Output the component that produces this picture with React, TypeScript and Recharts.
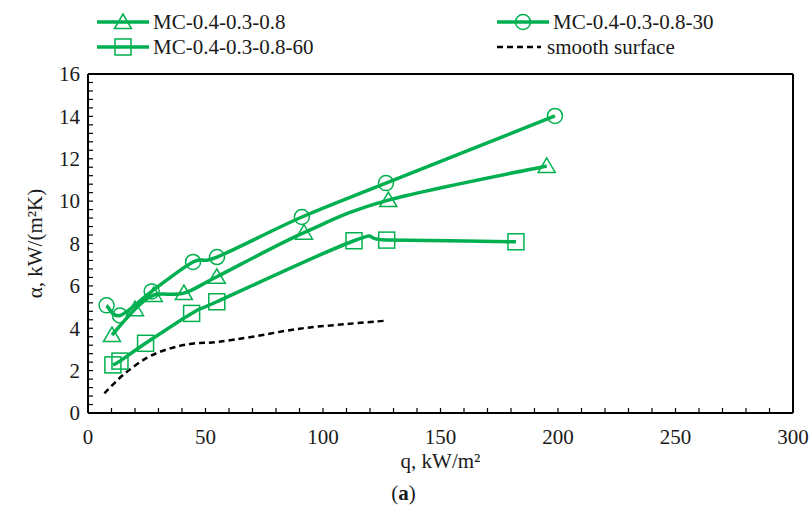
import React from 'react';
import { LineChart, Line, XAxis, YAxis, ReferenceLine, Legend, Label } from 'recharts';

// MC-0.4-0.3-0.8 (triangles)
const triQ = [10.2, 20, 28, 40.8, 54.8, 91.9, 127.8, 195.2];
const triA = [3.68, 4.9, 5.57, 5.66, 6.43, 8.51, 10.05, 11.66];
// MC-0.4-0.3-0.8-30 (circles)
const cirQ = [7.9, 13.6, 27.1, 44.7, 54.9, 91, 126.8, 198.7];
const cirA = [5.08, 4.6, 5.74, 7.13, 7.36, 9.25, 10.85, 14.02];
// MC-0.4-0.3-0.8-60 (squares)
const sqQ = [10.6, 13.6, 24.5, 44.1, 54.8, 113.2, 127.1, 182.1];
const sqA = [2.27, 2.45, 3.29, 4.7, 5.25, 8.13, 8.16, 8.08];
// smooth surface (dashed)
const smQ = [7, 15, 25, 35, 45, 55, 70, 90, 110, 126];
const smA = [0.93, 1.8, 2.6, 3.05, 3.28, 3.35, 3.6, 3.98, 4.2, 4.35];

const xTicks = Array.from({ length: 31 }, (_, i) => i * 10);
const yTicks = Array.from({ length: 41 }, (_, i) => Math.round(i * 4) / 10);
const xLabelEvery = 50;
const yLabelEvery = 2;

const seriesNames = ['MC-0.4-0.3-0.8', 'MC-0.4-0.3-0.8-30', 'MC-0.4-0.3-0.8-60', 'smooth surface'];

const toData = (qs: number[], as: number[]) => qs.map((q, i) => ({ q, a: as[i] }));
const triData = toData(triQ, triA);
const cirData = toData(cirQ, cirA);
const sqData = toData(sqQ, sqA);
const smData = toData(smQ, smA);

const GREEN = '#00B050';
const FONT = '"Liberation Serif", serif';
const FS = 21;
const TXT = '#1a1a1a';

// Excel-like smoothed line (Catmull-Rom Bezier)
const smoothCurve = (context: any) => {
  let pts: [number, number][] = [];
  return {
    areaStart() {},
    areaEnd() {},
    lineStart() {
      pts = [];
    },
    lineEnd() {
      const n = pts.length;
      if (!n) return;
      context.moveTo(pts[0][0], pts[0][1]);
      for (let i = 0; i < n - 1; i++) {
        const p0 = pts[i - 1] || pts[i];
        const p1 = pts[i];
        const p2 = pts[i + 1];
        const p3 = pts[i + 2] || p2;
        context.bezierCurveTo(
          p1[0] + (p2[0] - p0[0]) / 6,
          p1[1] + (p2[1] - p0[1]) / 6,
          p2[0] - (p3[0] - p1[0]) / 6,
          p2[1] - (p3[1] - p1[1]) / 6,
          p2[0],
          p2[1]
        );
      }
    },
    point(x: number, y: number) {
      pts.push([+x, +y]);
    },
  };
};

const Tri = ({ cx, cy }: any) => (
  <polygon
    points={`${cx},${cy - 8} ${cx - 8.5},${cy + 6.5} ${cx + 8.5},${cy + 6.5}`}
    fill="none"
    stroke={GREEN}
    strokeWidth={1.5}
  />
);
const Circ = ({ cx, cy }: any) => <circle cx={cx} cy={cy} r={7.5} fill="none" stroke={GREEN} strokeWidth={1.5} />;
const Sq = ({ cx, cy }: any) => (
  <rect x={cx - 8} y={cy - 8} width={16} height={16} fill="none" stroke={GREEN} strokeWidth={1.5} />
);

const XTick = (props: any) => {
  const { x, y, payload } = props;
  const v = payload.value;
  const show = Math.abs(v / xLabelEvery - Math.round(v / xLabelEvery)) < 1e-6;
  return (
    <g>
      <line x1={x} x2={x} y1={y} y2={y - 5} stroke="#000" strokeWidth={1.2} />
      {show && (
        <text x={x} y={y + 31} textAnchor="middle" fontFamily={FONT} fontSize={FS} fill={TXT}>
          {v}
        </text>
      )}
    </g>
  );
};

const YTick = (props: any) => {
  const { x, y, payload } = props;
  const v = payload.value;
  const show = Math.abs(v / yLabelEvery - Math.round(v / yLabelEvery)) < 1e-6;
  return (
    <g>
      <line x1={x} x2={x + 5} y1={y} y2={y} stroke="#000" strokeWidth={1.2} />
      {show && (
        <text x={x - 8} y={y} dy="0.35em" textAnchor="end" fontFamily={FONT} fontSize={FS} fill={TXT}>
          {Math.round(v)}
        </text>
      )}
    </g>
  );
};

const LegendContent = () => {
  const rowY = [22, 47];
  const col = [97, 497];
  return (
    <svg width={811} height={70} style={{ display: 'block' }}>
      <line x1={col[0]} x2={col[0] + 52} y1={rowY[0]} y2={rowY[0]} stroke={GREEN} strokeWidth={3.5} />
      <Tri cx={col[0] + 26} cy={rowY[0]} />
      <text x={col[0] + 56} y={rowY[0]} dy="0.35em" fontFamily={FONT} fontSize={FS} fill={TXT}>{seriesNames[0]}</text>
      <line x1={col[1]} x2={col[1] + 52} y1={rowY[0]} y2={rowY[0]} stroke={GREEN} strokeWidth={3.5} />
      <Circ cx={col[1] + 26} cy={rowY[0]} />
      <text x={col[1] + 56} y={rowY[0]} dy="0.35em" fontFamily={FONT} fontSize={FS} fill={TXT}>{seriesNames[1]}</text>
      <line x1={col[0]} x2={col[0] + 52} y1={rowY[1]} y2={rowY[1]} stroke={GREEN} strokeWidth={3.5} />
      <Sq cx={col[0] + 26} cy={rowY[1]} />
      <text x={col[0] + 56} y={rowY[1]} dy="0.35em" fontFamily={FONT} fontSize={FS} fill={TXT}>{seriesNames[2]}</text>
      <line x1={col[1]} x2={col[1] + 44} y1={rowY[1]} y2={rowY[1]} stroke="#000" strokeWidth={2.5} strokeDasharray="6 4" />
      <text x={col[1] + 50} y={rowY[1]} dy="0.35em" fontFamily={FONT} fontSize={FS} fill={TXT}>{seriesNames[3]}</text>
    </svg>
  );
};

export default function App() {
  return (
    <div style={{ position: 'absolute', left: 0, top: 0, width: 811, height: 512, background: '#fff' }}>
      <LineChart width={811} height={512} margin={{ top: 74, right: 18, bottom: 0, left: 0 }}>
        <XAxis
          type="number"
          dataKey="q"
          domain={[0, 300]}
          ticks={xTicks}
          interval={0}
          tick={<XTick />}
          tickLine={false}
          tickSize={0}
          tickMargin={0}
          height={99}
          axisLine={{ stroke: '#000', strokeWidth: 2 }}
          allowDataOverflow
        >
          <Label
            content={(p: any) => {
              const vb = p.viewBox;
              return (
                <g>
                  <text x={vb.x + vb.width / 2} y={vb.y + 55} textAnchor="middle" fontFamily={FONT} fontSize={FS} fill={TXT}>
                    q, kW/m²
                  </text>
                  <text x={vb.x + vb.width / 2 - 37} y={vb.y + 87} textAnchor="middle" fontFamily={FONT} fontSize={FS} fill={TXT}>
                    (<tspan fontWeight="bold">a</tspan>)
                  </text>
                </g>
              );
            }}
          />
        </XAxis>
        <YAxis
          type="number"
          dataKey="a"
          domain={[0, 16]}
          ticks={yTicks}
          interval={0}
          tick={<YTick />}
          tickLine={false}
          tickSize={0}
          tickMargin={0}
          width={88}
          axisLine={{ stroke: '#000', strokeWidth: 2 }}
          allowDataOverflow
        >
          <Label
            content={(p: any) => {
              const vb = p.viewBox;
              const cx = vb.x + 35;
              const cy = vb.y + vb.height / 2;
              return (
                <text x={cx} y={cy} textAnchor="middle" dy="0.35em" transform={`rotate(-90 ${cx} ${cy})`} fontFamily={FONT} fontSize={FS} fill={TXT}>
                  α, kW/(m²K)
                </text>
              );
            }}
          />
        </YAxis>
        <ReferenceLine y={16} stroke="#000" strokeWidth={2} ifOverflow="visible" />
        <ReferenceLine x={300} stroke="#000" strokeWidth={2} ifOverflow="visible" />
        <Legend
          layout="vertical"
          align="center"
          verticalAlign="middle"
          wrapperStyle={{ position: 'absolute', top: 0, left: 0, width: 811, height: 70 }}
          content={() => <LegendContent />}
        />
        <Line
          data={smData}
          dataKey="a"
          name={seriesNames[3]}
          type={smoothCurve as any}
          stroke="#000"
          strokeWidth={2.5}
          strokeDasharray="6 4"
          dot={false}
          activeDot={false}
          isAnimationActive={false}
        />
        <Line
          data={sqData}
          dataKey="a"
          name={seriesNames[2]}
          type={smoothCurve as any}
          stroke={GREEN}
          strokeWidth={3.5}
          dot={(p: any) => <Sq key={`s${p.index}`} cx={p.cx} cy={p.cy} />}
          activeDot={false}
          isAnimationActive={false}
        />
        <Line
          data={triData}
          dataKey="a"
          name={seriesNames[0]}
          type={smoothCurve as any}
          stroke={GREEN}
          strokeWidth={3.5}
          dot={(p: any) => <Tri key={`t${p.index}`} cx={p.cx} cy={p.cy} />}
          activeDot={false}
          isAnimationActive={false}
        />
        <Line
          data={cirData}
          dataKey="a"
          name={seriesNames[1]}
          type={smoothCurve as any}
          stroke={GREEN}
          strokeWidth={3.5}
          dot={(p: any) => <Circ key={`c${p.index}`} cx={p.cx} cy={p.cy} />}
          activeDot={false}
          isAnimationActive={false}
        />
      </LineChart>
    </div>
  );
}
